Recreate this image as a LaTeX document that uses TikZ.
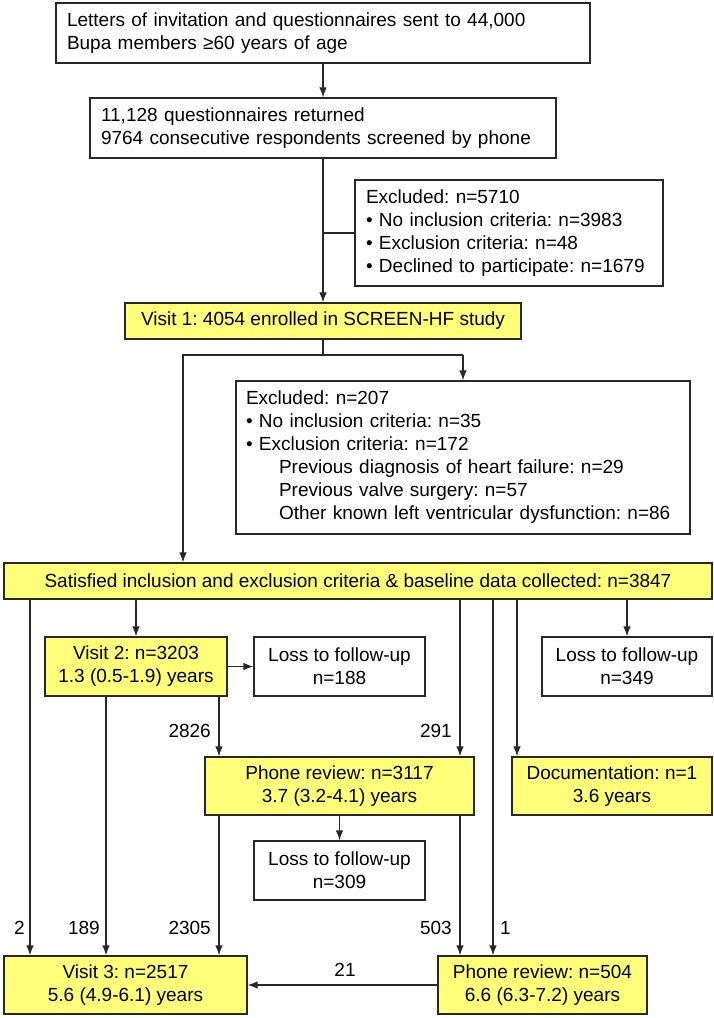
\documentclass[tikz,border=0pt]{standalone}
\usepackage{fontspec}
\setmainfont{Liberation Sans}
\frenchspacing
\usetikzlibrary{arrows.meta}
\definecolor{boxyellow}{RGB}{255,255,122}
\definecolor{linegray}{RGB}{40,40,40}

\begin{document}
\begin{tikzpicture}[x=1pt,y=1pt,yscale=-1,
  every node/.style={font=\fontsize{19}{23}\selectfont},
  box/.style={draw=linegray,line width=1.2pt,inner sep=0pt,fill=white},
  ybox/.style={box,fill=boxyellow},
  ln/.style={draw=linegray,line width=1.2pt},
  arr/.style={ln,-{Latex[length=10pt,width=7.5pt]}},
  num/.style={inner sep=0pt}]
\useasboundingbox (0,0) rectangle (714,1018);

%Shape: Rectangle
\node[box,minimum width=534,minimum height=60,text width=512,align=left] (letters) at (323,33)
  {Letters of invitation and questionnaires sent to 44,000\\Bupa members ≥60 years of age};
%Shape: Rectangle
\node[box,minimum width=466,minimum height=60,text width=444,align=left] (returned) at (323,128)
  {11,128 questionnaires returned\\9764 consecutive respondents screened by phone};
%Shape: Rectangle
\node[box,minimum width=308,minimum height=106,text width=286,align=left] (excl1) at (509,233)
  {Excluded: n=5710\\• No inclusion criteria: n=3983\\• Exclusion criteria: n=48\\• Declined to participate: n=1679};
%Shape: Rectangle
\node[ybox,minimum width=396,minimum height=36,align=center] (visit1) at (323,321)
  {Visit 1: 4054 enrolled in SCREEN-HF study};
%Shape: Rectangle
\node[box,minimum width=454,minimum height=153,text width=434,align=left] (excl2) at (463,457.5)
  {Excluded: n=207\\• No inclusion criteria: n=35\\• Exclusion criteria: n=172\\
   \hspace*{33pt}Previous diagnosis of heart failure: n=29\\
   \hspace*{33pt}Previous valve surgery: n=57\\
   \hspace*{33pt}Other known left ventricular dysfunction: n=86};
%Shape: Rectangle
\node[ybox,minimum width=708,minimum height=36,align=center] (base) at (358,581)
  {Satisfied inclusion and exclusion criteria \& baseline data collected: n=3847};
%Shape: Rectangle
\node[ybox,minimum width=182,minimum height=59,align=center] (visit2) at (136,666.5)
  {Visit 2: n=3203\\1.3 (0.5-1.9) years};
\node[box,minimum width=171,minimum height=59,align=center] (loss1) at (339.5,666.5)
  {Loss to follow-up\\n=188};
\node[box,minimum width=170,minimum height=59,align=center] (loss2) at (627,666.5)
  {Loss to follow-up\\n=349};
%Shape: Rectangle
\node[ybox,minimum width=269,minimum height=58,align=center] (phone1) at (339.5,786)
  {Phone review: n=3117\\3.7 (3.2-4.1) years};
\node[ybox,minimum width=200,minimum height=58,align=center] (docu) at (612,786)
  {Documentation: n=1\\3.6 years};
\node[box,minimum width=171,minimum height=59,align=center] (loss3) at (339.5,870.5)
  {Loss to follow-up\\n=309};
%Shape: Rectangle
\node[ybox,minimum width=243,minimum height=58,align=center] (visit3) at (125.5,985)
  {Visit 3: n=2517\\5.6 (4.9-6.1) years};
\node[ybox,minimum width=209,minimum height=58,align=center] (phone2) at (542.5,985)
  {Phone review: n=504\\6.6 (6.3-7.2) years};

%Straight Lines
\draw[arr] (letters) -- (returned);
\draw[arr] (returned) -- (visit1);
\draw[ln] (returned.south |- excl1.west) -- (excl1.west);
\coordinate (split) at (323,355);
\coordinate (lsplit) at (183,355);
\coordinate (rsplit) at (excl2.north |- split);
\draw[ln] (visit1.south) -- (split);
\draw[arr] (rsplit) -- (lsplit) -- (lsplit |- base.north);
\draw[arr] (rsplit) -- (excl2.north);

%Straight Lines
\draw[arr] (base.south -| 30,0) -- (visit3.north -| 30,0);
\draw[arr] (base.south -| visit2.north) -- (visit2.north);
\draw[arr] (base.south -| 460,0) -- (phone1.north -| 460,0);
\draw[arr] (base.south -| 493,0) -- (phone2.north -| 493,0);
\draw[arr] (base.south -| 517,0) -- (docu.north -| 517,0);
\draw[arr] (base.south -| loss2.north) -- (loss2.north);
\draw[arr] (visit2) -- (loss1);
\draw[arr] (visit2.south -| 106,0) -- (visit3.north -| 106,0);
\draw[arr] (visit2.south -| 219,0) -- (phone1.north -| 219,0);
\draw[arr] (phone1) -- (loss3);
\draw[arr] (phone1.south -| 219,0) -- (visit3.north -| 219,0);
\draw[arr] (phone1.south -| 460,0) -- (phone2.north -| 460,0);
\draw[arr] (phone2) -- (visit3);

% Text Node
\node[num,anchor=east] (n2826) at (211,731) {2826};
\node[num,anchor=east] (n291) at (452,731) {291};
\node[num,anchor=east] (n2) at (25,928) {2};
\node[num,anchor=east] (n189) at (100,928) {189};
\node[num,anchor=east] (n2305) at (211,928) {2305};
\node[num,anchor=east] (n503) at (452,928) {503};
\node[num,anchor=west] (n1) at (500,928) {1};
\node[num] (n21) at (345,970) {21};

\end{tikzpicture}
\end{document}
